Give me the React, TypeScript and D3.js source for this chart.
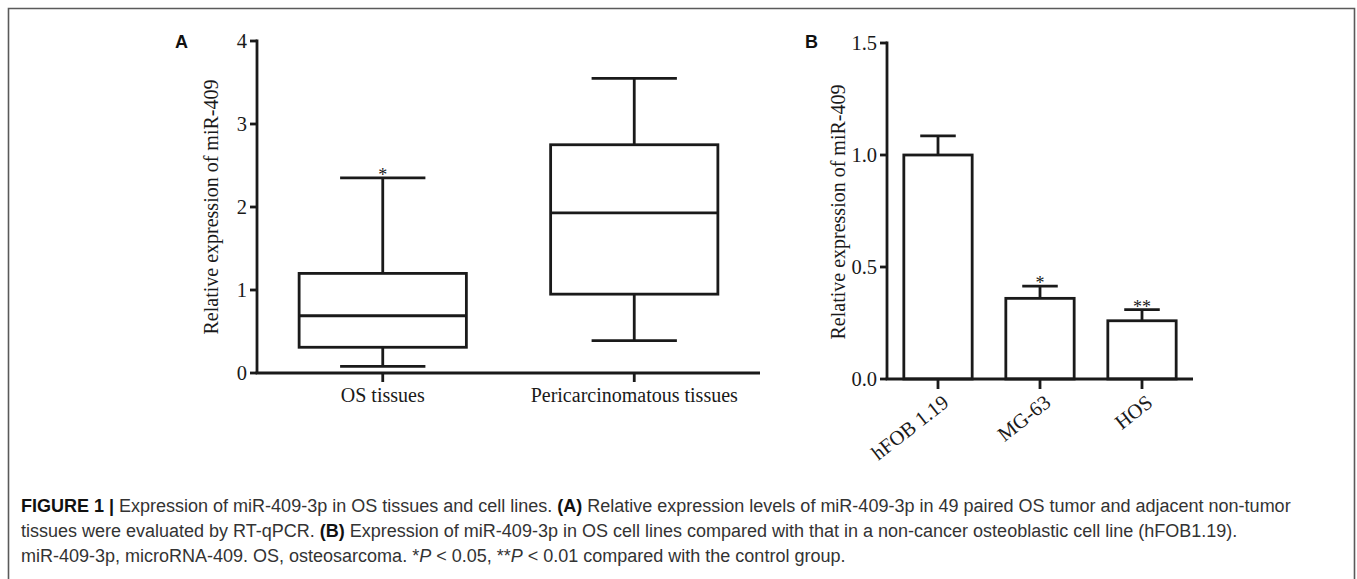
import React, { useEffect, useRef } from 'react';
import * as d3 from 'd3';

// panel A: box plot of tissues
const boxGroups = ["OS tissues", "Pericarcinomatous tissues"];
const boxMin = [0.08, 0.39];
const boxQ1 = [0.31, 0.95];
const boxMedian = [0.69, 1.93];
const boxQ3 = [1.2, 2.75];
const boxMax = [2.35, 3.55];
const boxStars = ["*", ""];
const ticksA = [0, 1, 2, 3, 4];

// panel B: bars for cell lines
const cellLines = ["hFOB 1.19", "MG-63", "HOS"];
const cellMeans = [1.0, 0.36, 0.26];
const cellErrors = [0.085, 0.055, 0.05];
const cellStars = ["", "*", "**"];
const ticksB = [0, 0.5, 1.0, 1.5];

const yLabel = "Relative expression of miR-409";
const serif = "'Liberation Serif', 'Times New Roman', serif";
const sans = "'Liberation Sans', Arial, sans-serif";
const ink = "#1a1a1a";
const sw = 2.8;

function drawAxisY(g, scale, ticks, x0, fmt) {
  const axis = g.append('g').attr('transform', 'translate(' + x0 + ',0)');
  axis.append('line')
    .attr('x1', 0).attr('x2', 0)
    .attr('y1', scale.range()[1] - sw / 2).attr('y2', scale.range()[0])
    .attr('stroke', ink).attr('stroke-width', sw);
  const t = axis.selectAll('.tick').data(ticks).enter().append('g')
    .attr('transform', d => 'translate(0,' + scale(d) + ')');
  t.append('line').attr('x1', -7).attr('x2', 0)
    .attr('stroke', ink).attr('stroke-width', sw);
  t.append('text')
    .attr('x', -10).attr('dy', '0.34em')
    .attr('text-anchor', 'end')
    .attr('font-family', serif).attr('font-size', 20.5)
    .attr('fill', ink)
    .text(fmt);
}

export default function App() {
  const svgRef = useRef(null);

  useEffect(() => {
    const svg = d3.select(svgRef.current);
    svg.selectAll('*').remove();

    // frame round the figure
    svg.append('path')
      .attr('d', 'M8.5,600 L8.5,8.5 L1354.5,8.5 L1354.5,600')
      .attr('fill', 'none').attr('stroke', '#5a5a5a').attr('stroke-width', 1.6);

    // ---------- panel A ----------
    const gA = svg.append('g');
    const yA = d3.scaleLinear().domain([0, 4]).range([373, 41]);
    const xA = d3.scaleBand().domain(boxGroups).range([257, 760]);
    const boxW = xA.bandwidth() * 0.665;
    const capW = boxW * 0.51;

    gA.append('text').attr('x', 175).attr('y', 48)
      .attr('font-family', sans).attr('font-weight', 'bold').attr('font-size', 18)
      .attr('fill', '#111').text('A');

    gA.append('text')
      .attr('transform', 'translate(218,207) rotate(-90)')
      .attr('text-anchor', 'middle')
      .attr('font-family', serif).attr('font-size', 20).attr('fill', ink)
      .text(yLabel);

    drawAxisY(gA, yA, ticksA, 257, d => d3.format('d')(d));

    gA.append('line').attr('x1', 257 - sw / 2).attr('x2', 760)
      .attr('y1', yA(0)).attr('y2', yA(0))
      .attr('stroke', ink).attr('stroke-width', sw);

    const boxes = gA.selectAll('.box').data(boxGroups).enter().append('g')
      .attr('class', 'box')
      .attr('transform', d => 'translate(' + (xA(d) + xA.bandwidth() / 2) + ',0)');
    boxes.append('line').attr('y1', yA(0)).attr('y2', yA(0) + 9)
      .attr('stroke', ink).attr('stroke-width', sw);
    boxes.append('text').attr('y', 402).attr('text-anchor', 'middle')
      .attr('font-family', serif).attr('font-size', 20).attr('fill', ink)
      .text(d => d);
    // whiskers
    boxes.append('line')
      .attr('y1', (d, i) => yA(boxMax[i])).attr('y2', (d, i) => yA(boxQ3[i]))
      .attr('stroke', ink).attr('stroke-width', sw);
    boxes.append('line')
      .attr('y1', (d, i) => yA(boxQ1[i])).attr('y2', (d, i) => yA(boxMin[i]))
      .attr('stroke', ink).attr('stroke-width', sw);
    boxes.append('line').attr('x1', -capW / 2).attr('x2', capW / 2)
      .attr('y1', (d, i) => yA(boxMax[i])).attr('y2', (d, i) => yA(boxMax[i]))
      .attr('stroke', ink).attr('stroke-width', sw);
    boxes.append('line').attr('x1', -capW / 2).attr('x2', capW / 2)
      .attr('y1', (d, i) => yA(boxMin[i])).attr('y2', (d, i) => yA(boxMin[i]))
      .attr('stroke', ink).attr('stroke-width', sw);
    boxes.append('rect')
      .attr('x', -boxW / 2).attr('width', boxW)
      .attr('y', (d, i) => yA(boxQ3[i]))
      .attr('height', (d, i) => yA(boxQ1[i]) - yA(boxQ3[i]))
      .attr('fill', 'white').attr('stroke', ink).attr('stroke-width', sw);
    boxes.append('line').attr('x1', -boxW / 2).attr('x2', boxW / 2)
      .attr('y1', (d, i) => yA(boxMedian[i])).attr('y2', (d, i) => yA(boxMedian[i]))
      .attr('stroke', ink).attr('stroke-width', sw);
    boxes.append('text')
      .attr('y', (d, i) => yA(boxMax[i]) + 3)
      .attr('text-anchor', 'middle')
      .attr('font-family', serif).attr('font-size', 18).attr('fill', ink)
      .text((d, i) => boxStars[i]);

    // ---------- panel B ----------
    const gB = svg.append('g');
    const yB = d3.scaleLinear().domain([0, 1.5]).range([379, 43]);
    const xB = d3.scaleBand().domain(cellLines).range([887, 1193]);
    const barW = xB.bandwidth() * 0.67;
    const errCap = barW * 0.52;

    gB.append('text').attr('x', 805).attr('y', 48)
      .attr('font-family', sans).attr('font-weight', 'bold').attr('font-size', 18)
      .attr('fill', '#111').text('B');

    gB.append('text')
      .attr('transform', 'translate(845,212) rotate(-90)')
      .attr('text-anchor', 'middle')
      .attr('font-family', serif).attr('font-size', 20).attr('fill', ink)
      .text(yLabel);

    drawAxisY(gB, yB, ticksB, 887, d => d3.format('.1f')(d));

    const bars = gB.selectAll('.bar').data(cellLines).enter().append('g')
      .attr('class', 'bar')
      .attr('transform', d => 'translate(' + (xB(d) + xB.bandwidth() / 2) + ',0)');
    bars.append('line')
      .attr('y1', (d, i) => yB(cellMeans[i] + cellErrors[i])).attr('y2', (d, i) => yB(cellMeans[i]))
      .attr('stroke', ink).attr('stroke-width', sw);
    bars.append('line').attr('x1', -errCap / 2).attr('x2', errCap / 2)
      .attr('y1', (d, i) => yB(cellMeans[i] + cellErrors[i]))
      .attr('y2', (d, i) => yB(cellMeans[i] + cellErrors[i]))
      .attr('stroke', ink).attr('stroke-width', sw);
    bars.append('rect')
      .attr('x', -barW / 2).attr('width', barW)
      .attr('y', (d, i) => yB(cellMeans[i]))
      .attr('height', (d, i) => yB(0) - yB(cellMeans[i]))
      .attr('fill', 'white').attr('stroke', ink).attr('stroke-width', sw);
    bars.append('text')
      .attr('y', (d, i) => yB(cellMeans[i] + cellErrors[i]) + 3)
      .attr('text-anchor', 'middle')
      .attr('font-family', serif).attr('font-size', 18).attr('fill', ink)
      .text((d, i) => cellStars[i]);
    bars.append('line').attr('y1', yB(0)).attr('y2', yB(0) + 10)
      .attr('stroke', ink).attr('stroke-width', sw);
    bars.append('text')
      .attr('transform', 'translate(12,405) rotate(-38)')
      .attr('text-anchor', 'end')
      .attr('font-family', serif).attr('font-size', 20.5).attr('fill', ink)
      .text(d => d);

    gB.append('line').attr('x1', 887 - sw / 2).attr('x2', 1193)
      .attr('y1', yB(0)).attr('y2', yB(0))
      .attr('stroke', ink).attr('stroke-width', sw);

    // ---------- caption ----------
    const cap = svg.append('g')
      .attr('font-family', sans).attr('font-size', 18).attr('fill', '#333');
    const lines = [
      [['FIGURE 1 | ', 'b'], ['Expression of miR-409-3p in OS tissues and cell lines. ', ''], ['(A)', 'b'],
        [' Relative expression levels of miR-409-3p in 49 paired OS tumor and adjacent non-tumor', '']],
      [['tissues were evaluated by RT-qPCR. ', ''], ['(B)', 'b'],
        [' Expression of miR-409-3p in OS cell lines compared with that in a non-cancer osteoblastic cell line (hFOB1.19).', '']],
      [['miR-409-3p, microRNA-409. OS, osteosarcoma. *', ''], ['P', 'i'], [' < 0.05, **', ''], ['P', 'i'],
        [' < 0.01 compared with the control group.', '']]
    ];
    const baselines = [512, 537, 562];
    lines.forEach((parts, li) => {
      const t = cap.append('text').attr('x', 21).attr('y', baselines[li])
        .attr('xml:space', 'preserve');
      parts.forEach(p => {
        t.append('tspan')
          .attr('font-weight', p[1] === 'b' ? 'bold' : null)
          .attr('font-style', p[1] === 'i' ? 'italic' : null)
          .attr('fill', p[1] === 'b' ? '#111' : null)
          .text(p[0]);
      });
    });
  }, []);

  return (
    <svg ref={svgRef} width={1357} height={579}
      style={{ position: 'absolute', left: 0, top: 0, background: 'white' }} />
  );
}
